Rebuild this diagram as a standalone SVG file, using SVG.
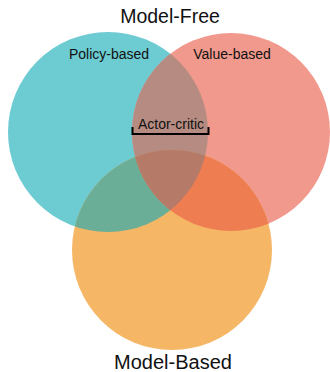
<svg xmlns="http://www.w3.org/2000/svg" width="330" height="372" viewBox="0 0 330 372">
<style>
text{font-family:"Liberation Sans",Arial,sans-serif;fill:#111;}
.big{font-size:19.5px;text-anchor:middle;}
.lbl{font-size:14px;text-anchor:middle;}
</style>
<defs>
<clipPath id="cC"><circle cx="108" cy="132" r="100"/></clipPath>
<clipPath id="cR"><circle cx="231" cy="132" r="99"/></clipPath>
</defs>
<rect width="330" height="372" fill="#fff"/>
<g id="set-policy"><circle cx="108" cy="132" r="100" fill="#6DCBD2"/></g>
<g id="set-value"><circle cx="231" cy="132" r="99" fill="#F1998D"/></g>
<g id="set-model"><circle cx="172" cy="250" r="100" fill="#F5B766"/></g>
<g id="overlaps">
<circle cx="231" cy="132" r="99" fill="#B68B82" clip-path="url(#cC)"/>
<circle cx="172" cy="250" r="100" fill="#6AAE98" clip-path="url(#cC)"/>
<circle cx="172" cy="250" r="100" fill="#EE7D52" clip-path="url(#cR)"/>
<g clip-path="url(#cC)"><circle cx="172" cy="250" r="100" fill="#B57B68" clip-path="url(#cR)"/></g>
</g>
<g id="labels">
<text class="big" x="170" y="23">Model-Free</text>
<text class="big" x="173" y="369" style="font-size:20px">Model-Based</text>
<text class="lbl" x="109" y="59">Policy-based</text>
<text class="lbl" x="232" y="59">Value-based</text>
</g>
<g id="actor-critic">
<text class="lbl" x="171" y="129">Actor-critic</text>
</g>
<g id="connectors">
<path d="M132.5,127 V134 H208.5 V127" fill="none" stroke="#000" stroke-width="2"/>
</g>
</svg>
